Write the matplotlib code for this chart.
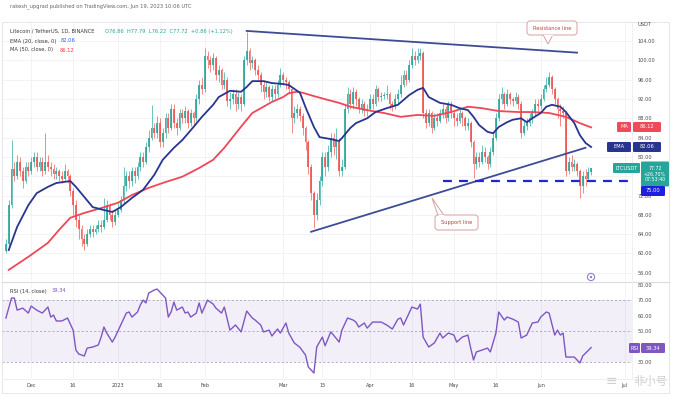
import numpy as np
import pandas as pd
import matplotlib
matplotlib.use("Agg")
import matplotlib.pyplot as plt
from matplotlib.transforms import Affine2D
from matplotlib.patches import FancyBboxPatch, Rectangle, Polygon, Circle

# ---------------- data ----------------
start_date = "2022-11-22"
first_open = 60.5
close = [62, 70, 77.5, 76, 79, 77, 75, 78, 77, 79,
         80, 78, 79, 77, 79, 78, 77.5, 76.5, 77, 76,
         75.5, 77, 76, 73, 70, 67, 65, 63, 62, 64,
         65, 64.5, 65, 66, 65.5, 67, 70, 68, 66.5, 68,
         69, 71, 74, 76, 75, 77, 76, 78, 80, 79,
         82, 84, 86, 85, 87, 83, 85, 88, 86, 90,
         87, 86, 89, 88, 89.5, 87, 89, 88, 92, 95,
         94, 101, 100, 99, 100.5, 97, 98, 95, 96, 91.5,
         92, 93, 91, 92.5, 91, 100, 102, 99.5, 100, 98,
         97, 95, 93.5, 94.5, 92.5, 94, 93, 95, 97, 96,
         95.5, 94, 88, 89, 90, 88.5, 86, 83, 78, 72.5,
         68, 71, 75, 80, 78, 81, 84, 82, 83.5, 77,
         78, 90, 93, 91, 93.5, 92, 90, 91, 89.5, 90,
         92, 91, 94, 92.5, 92.7, 92.8, 93, 91, 90.5, 92,
         93, 95, 97, 96, 99, 101, 100, 101, 101.5, 89,
         87, 89, 86, 88, 87.5, 89, 90, 88, 91, 89,
         88, 87.5, 89, 88, 86.5, 87, 83, 78.5, 80, 79,
         81, 80, 78.5, 81, 84, 88, 92, 93, 91, 93,
         92, 91.5, 92.5, 91, 85, 86.5, 87, 88, 89, 91,
         90.5, 92, 94, 95, 96.5, 94, 92, 90, 89.5, 89,
         77, 79, 78, 78.5, 77, 74, 76, 75.5, 76.86, 77.72]
high = [63, 71, 83.5, 79, 80.5, 80, 78, 79, 79, 80,
        81, 81, 80, 80, 85, 80.5, 79, 78.5, 78, 77.5,
        77, 78.5, 77.5, 76.5, 73.5, 71, 68, 66, 64, 65,
        66, 66, 66, 67, 67, 71.5, 71, 70.5, 69, 69,
        70.5, 72, 78, 77, 77, 78, 78, 79, 81, 81,
        83, 85.5, 90.8, 87, 88.5, 88, 86, 89, 89, 91,
        91, 88, 90, 90, 90.5, 90, 90, 89.5, 93, 96,
        96.5, 102.6, 102, 101, 101.5, 101, 99, 98.5, 97.5, 96.5,
        93.5, 94, 94, 93.5, 93, 101, 105.8, 102.5, 101, 100.5,
        99, 97.5, 96, 95.5, 95, 95, 95, 96, 98.5, 97.5,
        96.5, 96, 94.5, 90.5, 91, 90.5, 89, 86.5, 83.5, 78.5,
        73, 72.5, 76, 81, 81, 82.5, 85, 85, 86, 84,
        79.5, 91, 94.5, 94, 94.5, 94, 92.5, 92, 91.5, 91,
        93, 93, 95, 94.5, 93.5, 93.5, 95, 93.5, 91.5, 93,
        94, 97, 98, 98, 100, 102.5, 102, 102.5, 102.5, 102,
        90, 90, 89.5, 89, 89, 90, 91, 90.5, 91.5, 91.5,
        89.5, 89, 90, 89.5, 88.5, 88, 87.5, 83.5, 81, 81,
        82.5, 82, 80.5, 82, 85, 89, 93, 94.5, 93.5, 94,
        93.5, 92.5, 93.5, 93, 91.5, 87.5, 88, 89, 90, 92,
        92, 93, 95, 96.5, 97.6, 97, 94.5, 92.5, 91, 90.5,
        89.5, 80, 80.5, 79.5, 79, 77.5, 77, 77.5, 78, 77.79]
low = [60, 61.5, 69.5, 75, 75.5, 76, 73.5, 74.5, 76, 76.5,
       78, 77, 77, 76, 76.5, 77, 76, 75.5, 75.5, 75,
       74.5, 75, 74.5, 72, 68, 65.5, 63, 61.5, 60.7, 61.5,
       63.5, 63.5, 64, 64.5, 64.5, 65, 66.5, 67, 65.5, 66,
       67.5, 68.5, 70.5, 73, 73.5, 74, 74.5, 75.5, 77, 78,
       78.5, 81, 83.5, 84, 84, 82, 82, 84, 85, 85.5,
       86, 84.5, 85.5, 87, 87, 86, 86.5, 86.5, 87.5, 91,
       93, 93.5, 98.5, 97.5, 98, 96, 95.5, 94, 94, 90.5,
       90, 91, 89.5, 90, 89.5, 90.5, 99, 98, 98.5, 97,
       96, 93.5, 92, 92.5, 91.5, 91.5, 92, 92.5, 94.5, 95,
       94, 93, 85, 87, 88, 87.5, 84.5, 81.5, 76.5, 71,
       65.2, 67, 70, 74, 76, 77, 80, 80.5, 79.5, 76,
       76, 77.5, 89, 90, 90, 90.5, 89, 89, 88.5, 88.5,
       89.5, 90, 90.5, 91.5, 91.5, 92, 92, 90, 89.5, 90,
       91, 92.5, 94.5, 95, 95.5, 98.5, 99, 99.5, 100, 88,
       86, 86.5, 85, 85.5, 86.5, 87, 88, 87, 87.5, 88,
       86.5, 86.5, 87, 86.5, 85.5, 85.5, 82, 75.6, 77.5, 78,
       78.5, 79, 77.5, 78, 80.5, 83.5, 87.5, 91, 90, 90.5,
       91, 90.5, 91, 90, 84, 84.5, 85.5, 86.5, 87, 88.5,
       89.5, 90, 91.5, 93.5, 94.5, 93, 91, 88, 86.5, 88,
       76, 76.5, 77, 77, 76, 71.5, 72.5, 74, 75, 76.22]

ema_day = [1, 4, 8, 11, 15, 18, 23, 25, 28, 31, 35, 38, 41, 45, 49, 53, 56, 60, 63, 67,
           70, 74, 76, 80, 84, 86, 88, 92, 95, 99, 101, 105, 107, 110, 112, 116, 119, 120,
           123, 125, 129, 132, 136, 140, 142, 144, 147, 149, 151, 155, 159, 162, 165, 167,
           169, 172, 174, 176, 179, 181, 184, 186, 188, 191, 193, 195, 198, 200, 203, 205,
           207, 209]
ema_val = [60.7, 65.5, 70, 72.5, 73.8, 74.6, 75, 73.8, 71.7, 69.6, 69, 68.6, 69.6, 71.5,
           73.2, 76.3, 79.4, 81.9, 83.5, 86.2, 88.3, 90.8, 92.4, 93.7, 93.5, 94.5, 95.7,
           95.7, 95.3, 95.1, 94.9, 93.3, 90.3, 86.2, 84.1, 83.7, 83.3, 83.9, 86, 87, 88,
           89.3, 90.1, 90.8, 91.8, 92.8, 93.9, 94.3, 92.4, 91.2, 90.8, 90.1, 89.7, 88.3,
           86.6, 85.2, 84.9, 86.2, 87.2, 87.7, 88, 87.2, 88, 89.1, 90.4, 90.8, 90.4, 89.3,
           87, 84.5, 82.9, 82.06]

ma_day = [1, 8, 15, 19, 23, 28, 34, 40, 45, 51, 57, 63, 69, 74, 78, 81, 85, 88, 92, 95,
          99, 101, 104, 106, 110, 115, 119, 123, 129, 135, 141, 147, 153, 159, 165, 170,
          176, 183, 188, 194, 200, 205, 209]
ma_val = [56.6, 59.3, 62.2, 64.9, 67.4, 68.4, 69.4, 70.5, 72.1, 73.6, 74.8, 75.9, 77.7,
          79.4, 81.9, 84.1, 87, 89.1, 90.4, 91.4, 92.4, 93.2, 93.5, 93.3, 92.6, 91.8,
          91.2, 90.4, 89.7, 89.1, 88.3, 88.7, 88.5, 89.3, 90.4, 90.1, 89.5, 89.3, 89.3,
          89.1, 88.3, 87, 86.12]

rsi_day = [0, 2, 3, 4, 6, 8, 9, 11, 13, 15, 16, 17, 18, 20, 22, 24, 25, 26, 28, 29,
           31, 33, 34, 35, 36, 38, 39, 41, 43, 44, 45, 47, 48, 49, 50, 51, 53, 54, 56, 57,
           58, 59, 60, 61, 63, 64, 65, 66, 68, 69, 70, 72, 74, 75, 77, 78, 80, 82, 84, 86,
           88, 89, 91, 92, 94, 95, 97, 98, 100, 101, 103, 105, 107, 108, 110, 111, 113, 114,
           116, 117, 119, 120, 122, 124, 125, 126, 128, 129, 131, 134, 136, 138, 140, 141,
           142, 144, 145, 147, 148, 149, 151, 153, 154, 155, 156, 158, 160, 161, 163, 165,
           166, 167, 168, 170, 172, 173, 175, 176, 178, 179, 181, 183, 184, 186, 188, 190,
           191, 193, 194, 196, 197, 198, 199, 200, 203, 205, 206, 209]
rsi_val = [58.4, 71.3, 71.3, 63.5, 64.8, 61.6, 66.1, 63.5, 61.6, 65.5, 59, 60.3, 56.5,
           56.5, 58.4, 50.6, 37.7, 35.2, 33.9, 39, 39.7, 41, 46.1, 52.6, 48.7, 42.9, 46.1,
           53.9, 61.6, 62.3, 59, 62.3, 66.8, 70, 68.1, 74.5, 76.5, 77.1, 73.2, 71.3, 59,
           62.3, 68.7, 63.5, 65.5, 61.6, 62.3, 59, 61.6, 68.1, 61.6, 70, 67.4, 64.8, 61.6,
           65.5, 50.6, 53.9, 49.4, 62.9, 58.4, 57.1, 53.9, 49.4, 50.6, 46.8, 51.3, 48.7,
           55.2, 48.7, 42.3, 39.5, 34.5, 26.8, 22.9, 39.7, 46.1, 40.5, 49.4, 47.4, 42.9,
           50.6, 58.4, 57.1, 55.8, 52.6, 55.2, 51.9, 55.8, 55.8, 53.9, 51.3, 57.7, 58.4,
           53.9, 61.6, 65.5, 64.2, 67.4, 46.1, 39.7, 42.3, 45.5, 48.7, 45.5, 48.7, 47.4,
           42.9, 46.1, 47.4, 39, 31.3, 36.5, 37.7, 39, 36.5, 48.7, 62.3, 57.1, 59, 57.7,
           55.8, 45.5, 47.4, 55.2, 55.8, 59, 62.3, 61.6, 47.4, 50.6, 47.4, 48.7, 33.2,
           33.2, 29.4, 33.9, 39.34]

resistance_days = [86, 204]
resistance_vals = [106.1, 101.6]
support_days = [109, 207]
support_vals = [64.5, 81.9]
support_level = 75.0
support_level_from = 156

price_ticks = [56, 60, 64, 68, 72, 80, 84, 88, 92, 96, 100, 104]
rsi_ticks = [30, 50, 60, 70, 80]
date_ticks = ["2022-12-01", "2022-12-16", "2023-01-01", "2023-01-16", "2023-02-01",
              "2023-03-01", "2023-03-15", "2023-04-01", "2023-04-16", "2023-05-01",
              "2023-05-16", "2023-06-01", "2023-07-01"]
date_labels = ["Dec", "16", "2023", "16", "Feb", "Mar", "15", "Apr", "16", "May",
               "16", "Jun", "Jul"]

# ---------------- figure ----------------
W, H = 676, 396
fig = plt.figure(figsize=(W / 100, H / 100), dpi=100)
fig.patch.set_facecolor("white")
px = Affine2D().scale(1 / W, -1 / H).translate(0, 1) + fig.transFigure

def rect(l, t, r, b):
    return [l / W, 1 - b / H, (r - l) / W, (b - t) / H]

ax = fig.add_axes(rect(2, 22, 632, 281))
ax2 = fig.add_axes(rect(2, 283, 632, 378), sharex=ax)

n = len(close)
x = np.arange(n)
c = np.array(close, dtype=float)
o = np.concatenate([[first_open], c[:-1]])
hi = np.array(high, dtype=float)
lo = np.array(low, dtype=float)
up = c >= o
GREEN, RED = "#26a69a", "#ef5350"
cols = np.where(up, GREEN, RED)

t0 = pd.Timestamp(start_date)
tick_pos = [(pd.Timestamp(d) - t0).days for d in date_ticks]

for a in (ax, ax2):
    a.set_facecolor("white")
    for s in a.spines.values():
        s.set_visible(False)
    for tp in tick_pos:
        a.axvline(tp, color="#f0f1f5", lw=0.6, zorder=0)

ax.set_xlim(-1.4, 223.6)
ax.set_ylim(54.3, 107.95)
for v in price_ticks + [76]:
    ax.axhline(v, color="#f0f1f5", lw=0.6, zorder=0)

# candles
ax.vlines(x, lo, hi, colors=cols, lw=0.55, zorder=2, alpha=0.85)
body = np.maximum(np.abs(c - o), 0.15)
ax.bar(x, body, bottom=np.minimum(o, c), width=0.62, color=cols, zorder=3,
       alpha=0.85, linewidth=0)

# moving averages
ax.plot(ma_day, ma_val, color="#ef4757", lw=1.3, zorder=4)
ax.plot(ema_day, ema_val, color="#27358f", lw=1.3, zorder=5)

# drawings
ax.plot(resistance_days, resistance_vals, color="#3e4c96", lw=1.3, zorder=6)
ax.plot(support_days, support_vals, color="#3e4c96", lw=1.3, zorder=6)
ax.plot([support_level_from, 230], [support_level, support_level], color="#2323d8",
        lw=1.6, ls=(0, (4, 3.2)), zorder=6)

ax.yaxis.tick_right()
ax.set_yticks(price_ticks)
ax.set_yticklabels([f"{v:.2f}" for v in price_ticks])
ax.tick_params(axis="y", length=0, pad=4.3, labelsize=3.6, labelcolor="#4a4a4a")
ax.tick_params(axis="x", length=0, labelbottom=False)

# RSI
ax2.set_ylim(19.7, 81)
ax2.axhspan(30, 70, color="#7e57c2", alpha=0.09, lw=0, zorder=0)
for v in (30, 50, 70):
    ax2.axhline(v, color="#a8a3b8", lw=0.6, ls=(0, (2.5, 2.5)), zorder=1)
ax2.plot(rsi_day, rsi_val, color="#7e57c2", lw=1.0, zorder=3)
ax2.yaxis.tick_right()
ax2.set_yticks(rsi_ticks)
ax2.set_yticklabels([f"{v:.2f}" for v in rsi_ticks])
ax2.tick_params(axis="y", length=0, pad=4.3, labelsize=3.6, labelcolor="#4a4a4a")
ax2.set_xticks(tick_pos)
ax2.set_xticklabels(date_labels)
ax2.tick_params(axis="x", length=0, pad=3.5, labelsize=3.6, labelcolor="#4a4a4a")

# frame / separators
fig.add_artist(Rectangle((2, 22), 667, 371, transform=px, fill=False, ec="#e0e3eb", lw=0.6))
fig.add_artist(plt.Line2D([2, 669], [282, 282], transform=px, color="#d9dbe3", lw=0.8))
fig.add_artist(plt.Line2D([632, 632], [22, 378], transform=px, color="#eceef3", lw=0.6))
fig.add_artist(plt.Line2D([2, 669], [378.5, 378.5], transform=px, color="#eceef3", lw=0.6))

FS = 3.7
def t(xp, yp, s, **kw):
    kw.setdefault("fontsize", FS)
    kw.setdefault("va", "center")
    kw.setdefault("ha", "left")
    return fig.text(xp, yp, s, transform=px, **kw)

# top caption
t(10, 6, "rakesh_upgrad published on TradingView.com, Jun 19, 2023 10:06 UTC", color="#666666")

# legend texts
t(10, 31, "Litecoin / TetherUS, 1D, BINANCE", color="#3a3a3a")
t(105, 31, f"O{o[-1]:.2f}  H{hi[-1]:.2f}  L{lo[-1]:.2f}  C{c[-1]:.2f}  "
           f"{c[-1]-c[-2]:+.2f} ({(c[-1]-c[-2])/c[-2]*100:+.2f}%)", color=GREEN)
t(10, 41, "EMA (20, close, 0)", color="#3a3a3a")
t(61, 41, f"{ema_val[-1]:.2f}", color="#2962ff")
t(10, 50, "MA (50, close, 0)", color="#3a3a3a")
t(60, 50, f"{ma_val[-1]:.2f}", color="#f23645")
t(10, 291, "RSI (14, close)", color="#3a3a3a")
t(52, 291, f"{rsi_val[-1]:.2f}", color="#7e57c2")
t(638, 25, "USDT", color="#4a4a4a")

# badges on the scale
def badge(l, r, yc, hgt, color, s, fs=FS):
    fig.add_artist(FancyBboxPatch((l, yc - hgt / 2), r - l, hgt, transform=px,
                                  boxstyle="round,pad=0,rounding_size=1.2",
                                  fc=color, ec="none", zorder=10))
    t((l + r) / 2, yc, s, color="white", ha="center", zorder=11, fontsize=fs,
      linespacing=1.15)

badge(617, 631, 127, 10, "#f04a58", "MA")
badge(633, 661, 127, 10, "#f04a58", f"{ma_val[-1]:.2f}")
badge(607, 631, 147, 10, "#27358f", "EMA")
badge(633, 661, 147, 10, "#27358f", f"{ema_val[-1]:.2f}")
badge(613, 640, 168, 10, "#26a69a", "LTCUSDT")
badge(641, 669, 174, 25, "#26a69a", f"{c[-1]:.2f}\n+26.70%\n07:53:40", fs=3.4)
badge(641, 665, 191, 10, "#1f1fe0", f"{support_level:.2f}")
badge(629, 640, 348, 10, "#7e57c2", "RSI")
badge(641, 665, 348, 10, "#7e57c2", f"{rsi_val[-1]:.2f}")

# callouts
def callout(l, tp, r, b, tail, s):
    fig.add_artist(Polygon(tail, closed=True, transform=px, fc="white", ec="#d7a0a0",
                           lw=0.7, zorder=8))
    fig.add_artist(FancyBboxPatch((l, tp), r - l, b - tp, transform=px,
                                  boxstyle="round,pad=0,rounding_size=3",
                                  fc="white", ec="#d7a0a0", lw=0.7, zorder=9))
    t((l + r) / 2, (tp + b) / 2, s, color="#b5473f", ha="center", zorder=10)

callout(527, 21, 577, 35, [(543, 34.6), (548, 44), (553, 34.6)], "Resistance line")
fig.add_artist(plt.Line2D([544, 552], [35, 35], transform=px, color="white", lw=0.9, zorder=9.5))
callout(435, 215, 478, 230, [(432, 198), (438, 215.5), (444, 215.5)], "Support line")
fig.add_artist(plt.Line2D([438.6, 443.4], [215, 215], transform=px, color="white", lw=0.9, zorder=9.5))

# event icon
fig.add_artist(Circle((591, 277), 3.6, transform=px, fc="white", ec="#9a7bd0", lw=0.8, zorder=7))
fig.add_artist(Circle((591, 277), 1.2, transform=px, fc="#9a7bd0", ec="none", zorder=7))

# watermark (kept clear of the "Jul" label)
t(606, 381, "≡", color="#d0d0d0", fontsize=10, family="DejaVu Sans")
t(633, 381, "非小号", color="#d0d0d0", fontsize=8.2, family=["Noto Sans CJK SC", "DejaVu Sans"])

fig.savefig("out.png", dpi=100, facecolor="white")
